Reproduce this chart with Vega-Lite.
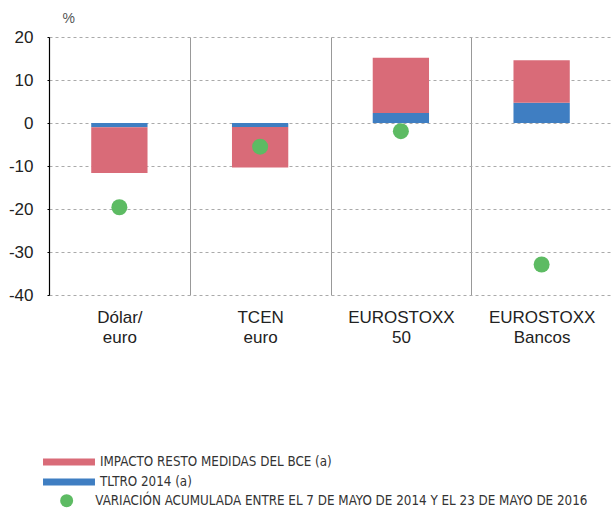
{
  "$schema": "https://vega.github.io/schema/vega-lite/v6.json",
  "width": 563,
  "height": 258,
  "autosize": {"type": "none"},
  "padding": {"left": 49, "top": 37, "right": 0, "bottom": 213},
  "background": "white",
  "config": {"view": {"stroke": null}, "font": "Liberation Sans"},
  "datasets": {
    "barras": [
      {"categoria": "Dólar/euro", "serie": "TLTRO 2014 (a)", "valor": -1.0},
      {"categoria": "Dólar/euro", "serie": "IMPACTO RESTO MEDIDAS DEL BCE (a)", "valor": -10.6},
      {"categoria": "TCEN euro", "serie": "TLTRO 2014 (a)", "valor": -0.95},
      {"categoria": "TCEN euro", "serie": "IMPACTO RESTO MEDIDAS DEL BCE (a)", "valor": -9.4},
      {"categoria": "EUROSTOXX 50", "serie": "TLTRO 2014 (a)", "valor": 2.3},
      {"categoria": "EUROSTOXX 50", "serie": "IMPACTO RESTO MEDIDAS DEL BCE (a)", "valor": 12.9},
      {"categoria": "EUROSTOXX Bancos", "serie": "TLTRO 2014 (a)", "valor": 4.7},
      {"categoria": "EUROSTOXX Bancos", "serie": "IMPACTO RESTO MEDIDAS DEL BCE (a)", "valor": 9.9}
    ],
    "variacion": [
      {"categoria": "Dólar/euro", "serie": "VARIACIÓN ACUMULADA ENTRE EL 7 DE MAYO DE 2014 Y EL 23 DE MAYO DE 2016", "valor": -19.6},
      {"categoria": "TCEN euro", "serie": "VARIACIÓN ACUMULADA ENTRE EL 7 DE MAYO DE 2014 Y EL 23 DE MAYO DE 2016", "valor": -5.5},
      {"categoria": "EUROSTOXX 50", "serie": "VARIACIÓN ACUMULADA ENTRE EL 7 DE MAYO DE 2014 Y EL 23 DE MAYO DE 2016", "valor": -1.9},
      {"categoria": "EUROSTOXX Bancos", "serie": "VARIACIÓN ACUMULADA ENTRE EL 7 DE MAYO DE 2014 Y EL 23 DE MAYO DE 2016", "valor": -32.9}
    ]
  },
  "layer": [
    {
      "data": {"name": "barras"},
      "mark": {"type": "bar", "width": {"band": 0.4}},
      "encoding": {
        "x": {
          "field": "categoria",
          "type": "nominal",
          "sort": null,
          "scale": {"domain": ["Dólar/euro", "TCEN euro", "EUROSTOXX 50", "EUROSTOXX Bancos"], "paddingInner": 0, "paddingOuter": 0},
          "axis": {
            "title": null,
            "labelAngle": 0,
            "labelExpr": "datum.label == 'Dólar/euro' ? ['Dólar/', 'euro'] : split(datum.label, ' ')",
            "labelFontSize": 17,
            "labelColor": "#222",
            "labelLineHeight": 20,
            "labelPadding": 14,
            "ticks": false,
            "tickSize": 0,
            "domain": false,
            "grid": true,
            "tickBand": "extent",
            "gridColor": "#999",
            "gridWidth": 1,
            "gridDash": []
          }
        },
        "y": {
          "field": "valor",
          "type": "quantitative",
          "stack": "zero",
          "scale": {"domain": [-40, 20], "nice": false},
          "axis": {
            "values": [-40, -30, -20, -10, 0, 10, 20],
            "labelExpr": "'' + datum.value",
            "title": "%",
            "titleAngle": 0,
            "titleAnchor": "end",
            "titleAlign": "left",
            "titleBaseline": "bottom",
            "titleX": 13,
            "titleY": -12,
            "titleFontSize": 14,
            "titleFontWeight": "normal",
            "titleColor": "#555",
            "labelFontSize": 17,
            "labelColor": "#222",
            "labelPadding": 14,
            "tickSize": 2,
            "tickColor": "#000",
            "domainColor": "#000",
            "domainWidth": 1.2,
            "grid": true,
            "gridDash": [3, 3],
            "gridColor": "#aaa"
          }
        },
        "color": {
          "field": "serie",
          "type": "nominal",
          "scale": {"domain": ["IMPACTO RESTO MEDIDAS DEL BCE (a)", "TLTRO 2014 (a)"], "range": ["#D96B78", "#3F7EC2"]},
          "legend": {
            "title": null,
            "orient": "none",
            "legendX": 11,
            "legendY": 416,
            "padding": 0,
            "symbolType": "M-3,-0.4H3V0.4H-3Z",
            "symbolSize": 300,
            "symbolStrokeWidth": 0,
            "labelOffset": 22,
            "labelFont": "DejaVu Sans Condensed",
            "labelFontSize": 13.3,
            "labelColor": "#333",
            "rowPadding": 4,
            "labelLimit": 600
          }
        },
        "order": {"field": "serie", "sort": "descending"}
      }
    },
    {
      "mark": {"type": "rule", "color": "#000", "strokeWidth": 1.5},
      "encoding": {"y": {"datum": 0}}
    },
    {
      "data": {"name": "variacion"},
      "mark": {"type": "point", "filled": true, "opacity": 1, "size": 256},
      "encoding": {
        "x": {"field": "categoria", "type": "nominal", "sort": null},
        "y": {"field": "valor", "type": "quantitative"},
        "color": {
          "field": "serie",
          "type": "nominal",
          "scale": {"range": ["#5DBB63"]},
          "legend": {
            "title": null,
            "orient": "none",
            "legendX": 11,
            "legendY": 457,
            "padding": 0,
            "symbolType": "circle",
            "symbolSize": 169,
            "symbolStrokeWidth": 0,
            "labelOffset": 22,
            "labelFont": "DejaVu Sans Condensed",
            "labelFontSize": 13.3,
            "labelColor": "#333",
            "labelLimit": 600
          }
        }
      }
    }
  ],
  "resolve": {"scale": {"color": "independent"}, "legend": {"color": "independent"}}
}
